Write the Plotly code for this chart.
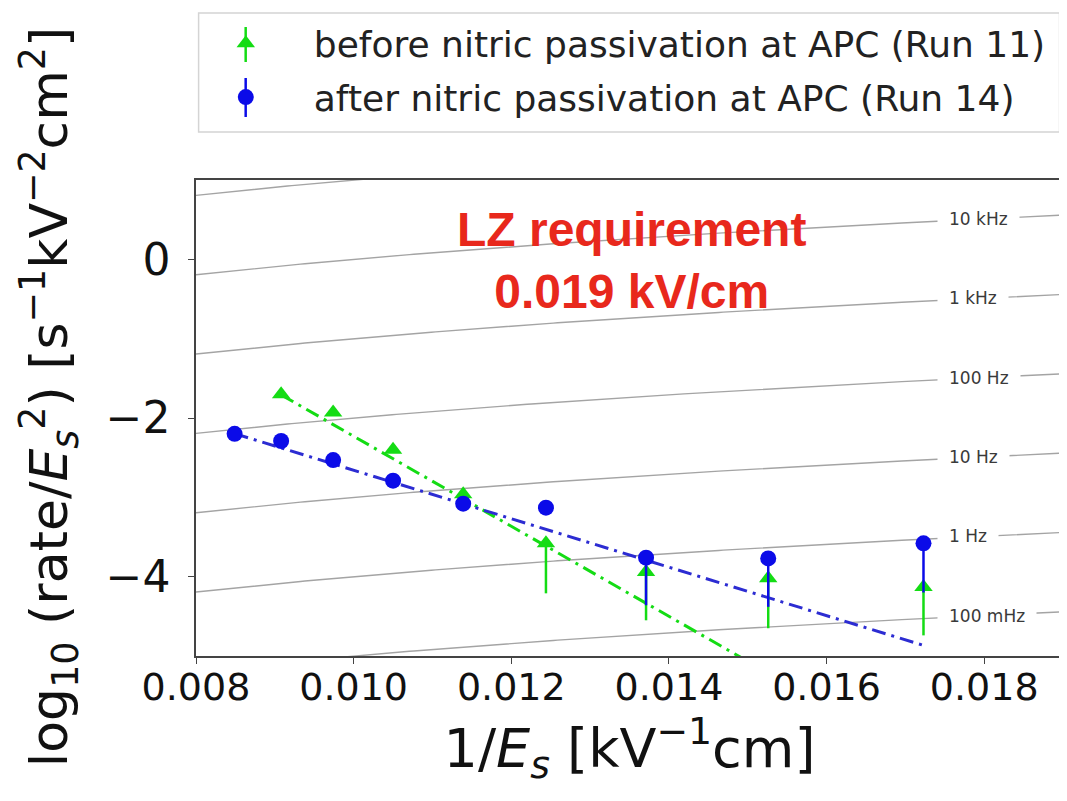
import numpy as np
import plotly.graph_objects as go

# ---- data ----
inv_field = [0.00849, 0.00908, 0.00974, 0.01050, 0.01139, 0.01244, 0.01371, 0.01526, 0.01723]

after_y = [-2.20, -2.29, -2.53, -2.79, -3.08, -3.13, -3.76, -3.77, -3.58]
after_err_lo = [0, 0, 0, 0, 0, 0, 0.60, 0.61, 0.62]

before_x = inv_field[1:]
before_y = [-1.70, -1.93, -2.40, -2.96, -3.58, -3.94, -4.02, -4.13]
before_err_lo = [0, 0, 0, 0, 0.63, 0.61, 0.63, 0.61]

# linear fits (slope, intercept) of log10(rate/E^2) vs 1/E
fit_before = (-567.3, 3.443)
fit_after = (-305.5, 0.397)

# iso-rate reference lines: log10(rate/E^2) = log10(rate) + 2 log10(1/E)
iso_rates = [1e5, 1e4, 1e3, 1e2, 1e1, 1e0, 1e-1]
iso_labels = ["", "10 kHz", "1 kHz", "100 Hz", "10 Hz", "1 Hz", "100 mHz"]

x_ticks = [0.008, 0.010, 0.012, 0.014, 0.016, 0.018]
y_ticks = [-4, -2, 0]
x_range = [0.008, 0.019]
y_range = [-5, 1]

GREEN = "#14dc14"
BLUE_M = "#0b0be8"
BLUE_L = "#2c2cd2"

fig = go.Figure()

# iso-rate curves
xg = np.linspace(x_range[0], x_range[1], 200)
for r in iso_rates:
    fig.add_trace(go.Scatter(x=xg, y=np.log10(r) + 2 * np.log10(xg), mode="lines",
                             line=dict(color="#a4a4a4", width=1.4),
                             showlegend=False, hoverinfo="skip"))

# fit lines
for (m, b), xs, col in [(fit_before, before_x, GREEN), (fit_after, inv_field, BLUE_L)]:
    xf = np.array([xs[0], xs[-1]])
    fig.add_trace(go.Scatter(x=xf, y=m * xf + b, mode="lines",
                             line=dict(color=col, width=3, dash="14px,6px,3px,6px"),
                             showlegend=False, hoverinfo="skip"))

fig.add_trace(go.Scatter(
    x=before_x, y=before_y, mode="markers",
    name="before nitric passivation at APC (Run 11)", legendgroup="a",
    marker=dict(symbol="triangle-up", size=16, color=GREEN),
    error_y=dict(type="data", symmetric=False, array=[0] * len(before_y),
                 arrayminus=before_err_lo, color=GREEN, thickness=2.5, width=0)))

fig.add_trace(go.Scatter(
    x=inv_field, y=after_y, mode="markers",
    name="after nitric passivation at APC (Run 14)", legendgroup="b",
    marker=dict(symbol="circle", size=16, color=BLUE_M),
    error_y=dict(type="data", symmetric=False, array=[0] * len(after_y),
                 arrayminus=after_err_lo, color=BLUE_M, thickness=2.5, width=0)))

# iso-rate labels (white box breaks the line like clabel)
lab_x = 0.01740
lab_c = 0.01794
for r, t in zip(iso_rates, iso_labels):
    if not t:
        continue
    fig.add_annotation(x=lab_x, y=np.log10(r) + 2 * np.log10(lab_c), text=t,
                       xanchor="left", yanchor="middle", showarrow=False,
                       bgcolor="white", borderpad=11,
                       font=dict(family="DejaVu Sans", size=17, color="#3a3a3a"))

fig.add_annotation(x=0.01353, y=-0.02, text="<b>LZ requirement<br>0.019 kV/cm</b>",
                   showarrow=False, xanchor="center", yanchor="middle",
                   font=dict(family="Liberation Sans", size=48, color="#e8281c"))

# y-axis title (placed like the reference, slightly above plot centre)
fig.add_annotation(xref="paper", yref="paper", x=-0.170, y=0.543,
                   xanchor="center", yanchor="middle", textangle=-90, showarrow=False,
                   text="log<sub>10</sub> (rate/<i>E</i><sub><i>s</i></sub><sup>2</sup>) [s<sup>−1</sup>kV<sup>−2</sup>cm<sup>2</sup>]",
                   font=dict(family="DejaVu Sans", size=52, color="#111"))

# legend frame and error-bar strokes on legend glyphs
fig.add_shape(type="rect", xref="paper", yref="paper", x0=0.003, x1=0.996,
              y0=1.1008, y1=1.3508, line=dict(color="#d4d4d4", width=1.5),
              fillcolor="rgba(0,0,0,0)", layer="below")
fig.add_shape(type="line", xref="paper", yref="paper", x0=0.0573, x1=0.0573,
              y0=1.2479, y1=1.3214, line=dict(color=GREEN, width=2.5))
fig.add_shape(type="line", xref="paper", yref="paper", x0=0.0573, x1=0.0573,
              y0=1.1324, y1=1.2143, line=dict(color=BLUE_M, width=2.5))

axis_common = dict(showline=True, mirror=True, linecolor="#444", linewidth=1.6,
                   ticks="outside", ticklen=6, tickwidth=1.4, tickcolor="#444",
                   showgrid=False, zeroline=False)

fig.update_xaxes(range=x_range, tickvals=x_ticks, tickformat=".3f",
                 tickfont=dict(family="DejaVu Sans", size=38, color="#111"),
                 ticklabelstandoff=-9,
                 title=dict(text="1/<i>E</i><sub><i>s</i></sub> [kV<sup>−1</sup>cm]",
                            font=dict(family="DejaVu Sans", size=54, color="#111"),
                            standoff=10),
                 **axis_common)
fig.update_yaxes(range=y_range, tickvals=y_ticks,
                 tickfont=dict(family="DejaVu Sans", size=44, color="#111"),
                 ticklabelstandoff=9,
                 **axis_common)

fig.update_layout(
    width=1059, height=793,
    margin=dict(l=188, r=4, t=172, b=145, autoexpand=False),
    paper_bgcolor="white", plot_bgcolor="white",
    legend=dict(x=-0.021, y=1.35, xanchor="left", yanchor="top",
                bgcolor="rgba(0,0,0,0)", borderwidth=0, itemwidth=126,
                tracegroupgap=4,
                font=dict(family="DejaVu Sans", size=36, color="#222")),
)

fig.write_html("out.html")
